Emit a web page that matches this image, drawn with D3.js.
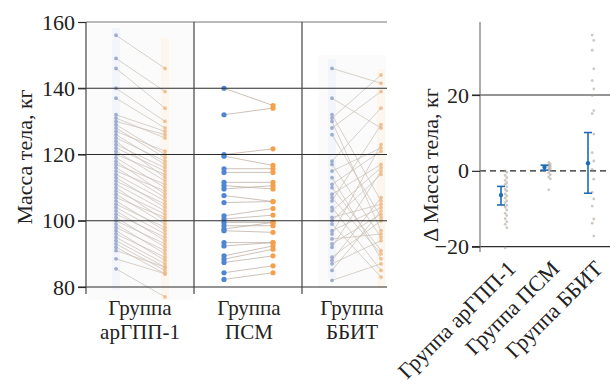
<!DOCTYPE html>
<html><head><meta charset="utf-8">
<script src="https://cdn.jsdelivr.net/npm/d3@7/dist/d3.min.js"></script>
<style>
body{margin:0;background:#fff}
svg{display:block}
</style></head>
<body><svg id="c" width="610" height="384"></svg>
<script>
// ---- data ----
const groups = ["Группа арГПП-1", "Группа ПСМ", "Группа ББИТ"];
const groupLine1 = ["Группа", "Группа", "Группа"];
const groupLine2 = ["арГПП-1", "ПСМ", "ББИТ"];
const leftTicks = [80, 100, 120, 140, 160];
const rightTicks = [-20, 0, 20];

const glpBefore = [156,149,146,140,137,132,131,130,129,128,127,126,125,124,123,122,121,120,119,118,117,116,115,114,113,112,111,110,109,108,107,106,105,104,103,102,101,100,99,98,97,96,95,94,93,92,91,88.5,85.5];
const glpAfter  = [146,139,134,130,128,127,125,126,120,119,121,117,118,113,116,115,112,114,110,108,111,107,109,106,104,105,103,100,102,99,101,97,98,96,94,95,92,93,90,91,88,89,87,86,85,84,86,84,77];

const psmBefore = [140,132,120,119.5,115.7,114.6,111.6,110.6,109.6,107.6,105.5,101.5,100.5,99.5,98.5,97.5,97,93.4,92.4,89.4,88.4,87.4,84.3,82.3];
const psmAfter  = [134.8,134,121.7,116.7,115.7,114.6,111.6,109.6,110.6,105.8,105.8,103.7,101.7,99.5,98.5,99.5,96.5,93.4,93.4,92.4,91.4,89.4,86.4,84.3];

const bbitBefore = [146,137,132,131,130,128,126,118,117,115,113,111,110,108,107,106,104,103,101,100,99,97,96,94.5,93,92,89,88,87,85,82];
const bbitAfter  = [141.5,128,106,144,97,139,101,134,95,122,88.5,121,91,117,90,129,85,116,105,114,83,104,123,96,102,115,100,107,94,103,87];

const glpDelta  = [0,-0.4,-1.2,-1.8,-2.5,-3.1,-3.6,-4.2,-4.9,-5.3,-6.1,-6.6,-7.2,-7.9,-8.4,-9.1,-9.6,-10.3,-11.2,-11.8,-12.6,-13.4,-14.1,-15.0,-20.3];
const psmDelta  = [2.2,1.8,1.5,1.2,0.9,0.6,0.3,0,-0.5,-1.0,-1.6,-2.1,-5.0];
const bbitDelta = [35.8,34.4,31.8,26.9,23.8,21.6,19.9,15.9,15.1,9.7,4.8,2.6,0.4,-2.2,-5.7,-7.4,-9.3,-12.7,-13.8,-17.2];

const deltaMean = [-6.4, 1.0, 2.0];
const deltaLow  = [-9.0, 0.2, -5.9];
const deltaHigh = [-4.1, 1.5, 10.1];

// ---- drawing ----
const FONT = '"Liberation Serif", "Times New Roman", serif';
const FS = 22;
const svg = d3.select("#c");
const defs = svg.append("defs");
defs.append("filter").attr("id","blur").append("feGaussianBlur").attr("stdDeviation",0.7);

const yL = d3.scaleLinear().domain([80,160]).range([287,22]);
const xBand = d3.scaleBand().domain(groups).range([86,410]).padding(0);
const yR = d3.scaleLinear().domain([-20,20]).range([246.7,95]);
const xR = d3.scalePoint().domain(groups).range([501,588]);

const blue = "#4f86d4", orange = "#f5a04a", lineC = "#bfb3a6";
const pairs = [[glpBefore,glpAfter],[psmBefore,psmAfter],[bbitBefore,bbitAfter]];

pairs.forEach((p,i)=>{
  const x0 = xBand(groups[i]);
  const bx = x0+30, ax = x0+79;
  const blurred = i !== 1;
  const g = svg.append("g");
  if (blurred){
    g.attr("filter","url(#blur)").attr("opacity",0.8);
    const top = i===0 ? 24 : 55, bot = i===0 ? 300 : 288;
    g.append("rect").attr("x", i===0 ? x0+2 : x0+16).attr("y", top)
      .attr("width", i===0 ? 105 : 68).attr("height", bot-top).attr("fill","#fbfbfb");
    g.append("rect").attr("x",bx-4).attr("y",top+4).attr("width",8).attr("height",bot-top-14).attr("fill","#eff4fb");
    g.append("rect").attr("x",ax-4).attr("y",top+14).attr("width",8).attr("height",bot-top-14).attr("fill","#fdf5ec");
  }
  p[0].forEach((v,j)=>{
    g.append("line").attr("x1",bx).attr("x2",ax).attr("y1",yL(v)).attr("y2",yL(p[1][j]))
      .attr("stroke",lineC).attr("stroke-width",1).attr("stroke-opacity", blurred?0.75:0.8);
  });
  g.selectAll(null).data(p[0]).join("circle").attr("cx",bx).attr("cy",d=>yL(d))
    .attr("r", blurred?1.9:2.6).attr("fill", blurred?"#6f86b8":blue).attr("fill-opacity", blurred?0.8:1);
  g.selectAll(null).data(p[1]).join("circle").attr("cx",ax).attr("cy",d=>yL(d))
    .attr("r", blurred?1.9:2.6).attr("fill", blurred?"#e9a766":orange).attr("fill-opacity", blurred?0.85:1);
});

svg.append("g").selectAll(null).data([100,120,140]).join("line")
  .attr("x1",78).attr("x2",387).attr("y1",d=>yL(d)).attr("y2",d=>yL(d))
  .attr("stroke","#2b2b2b").attr("stroke-width",1.2);
svg.append("line").attr("x1",86).attr("x2",387).attr("y1",yL(160)).attr("y2",yL(160)).attr("stroke","#777").attr("stroke-width",1);
svg.append("line").attr("x1",78).attr("x2",387).attr("y1",yL(80)).attr("y2",yL(80)).attr("stroke","#2b2b2b").attr("stroke-width",1.2);
svg.append("g").selectAll(null).data(groups).join("line")
  .attr("x1",d=>xBand(d)).attr("x2",d=>xBand(d)).attr("y1",22).attr("y2",294)
  .attr("stroke","#444").attr("stroke-width",1.2);

const axL = svg.append("g").attr("transform","translate(86,0)")
  .call(d3.axisLeft(yL).tickValues(leftTicks).tickSize(8).tickPadding(3));
axL.attr("font-family",FONT).attr("font-size",FS);
axL.select(".domain").remove();
axL.selectAll("line").attr("stroke","#2b2b2b").attr("stroke-width",1.2);
axL.selectAll("text").attr("fill","#222");

svg.append("text").attr("transform","translate(32,157) rotate(-90)").attr("text-anchor","middle")
  .attr("font-family",FONT).attr("font-size",FS).attr("fill","#222").text("Масса тела, кг");

const catX = [140, 249, 352];
svg.append("g").selectAll(null).data(groups).join("text")
  .attr("text-anchor","middle").attr("font-family",FONT).attr("font-size",21).attr("fill","#222")
  .attr("x",(d,i)=>catX[i]).attr("y",315).text((d,i)=>groupLine1[i]);
svg.append("g").selectAll(null).data(groups).join("text")
  .attr("text-anchor","middle").attr("font-family",FONT).attr("font-size",21).attr("fill","#222")
  .attr("x",(d,i)=>catX[i]).attr("y",339).text((d,i)=>groupLine2[i]);

svg.append("line").attr("x1",472).attr("x2",610).attr("y1",yR(20)).attr("y2",yR(20)).attr("stroke","#2b2b2b").attr("stroke-width",1.2);
svg.append("line").attr("x1",472).attr("x2",610).attr("y1",yR(-20)).attr("y2",yR(-20)).attr("stroke","#2b2b2b").attr("stroke-width",1.2);
svg.append("line").attr("x1",480).attr("x2",610).attr("y1",yR(0)).attr("y2",yR(0)).attr("stroke","#222").attr("stroke-width",1.1).attr("stroke-dasharray","6,4");
svg.append("line").attr("x1",480).attr("x2",480).attr("y1",22).attr("y2",252).attr("stroke","#777").attr("stroke-width",1.2);

const axR = svg.append("g").attr("transform","translate(480,0)")
  .call(d3.axisLeft(yR).tickValues(rightTicks).tickSize(8).tickPadding(3));
axR.attr("font-family",FONT).attr("font-size",FS);
axR.select(".domain").remove();
axR.selectAll("line").attr("stroke","#2b2b2b").attr("stroke-width",1.2);
axR.selectAll("text").attr("fill","#222");

svg.append("text").attr("transform","translate(438,165) rotate(-90)").attr("text-anchor","middle")
  .attr("font-family",FONT).attr("font-size",FS).attr("fill","#222").text("Δ Масса тела, кг");

const jg = svg.append("g").attr("filter","url(#blur)");
[glpDelta, psmDelta, bbitDelta].forEach((arr,i)=>{
  jg.selectAll(null).data(arr).join("circle")
    .attr("cx",(d,j)=>xR(groups[i])+5+(j%2?0.8:-0.8)).attr("cy",d=>yR(d)).attr("r",1.4)
    .attr("fill","#a89a8c").attr("fill-opacity",0.55);
});
const eb = svg.append("g");
groups.forEach((g,i)=>{
  const x = xR(g);
  eb.append("line").attr("x1",x).attr("x2",x).attr("y1",yR(deltaLow[i])).attr("y2",yR(deltaHigh[i])).attr("stroke","#1f6bb5").attr("stroke-width",1.6);
  [deltaLow[i],deltaHigh[i]].forEach(v=>eb.append("line").attr("x1",x-4).attr("x2",x+4).attr("y1",yR(v)).attr("y2",yR(v)).attr("stroke","#1f6bb5").attr("stroke-width",1.6));
  eb.append("circle").attr("cx",x).attr("cy",yR(deltaMean[i])).attr("r",2.2).attr("fill","#1f6bb5");
});

svg.append("g").selectAll(null).data(groups).join("text")
  .attr("transform",d=>`translate(${xR(d)+16},270) rotate(-45)`)
  .attr("text-anchor","end").attr("font-family",FONT).attr("font-size",FS).attr("fill","#222").text(d=>d);
</script></body></html>
